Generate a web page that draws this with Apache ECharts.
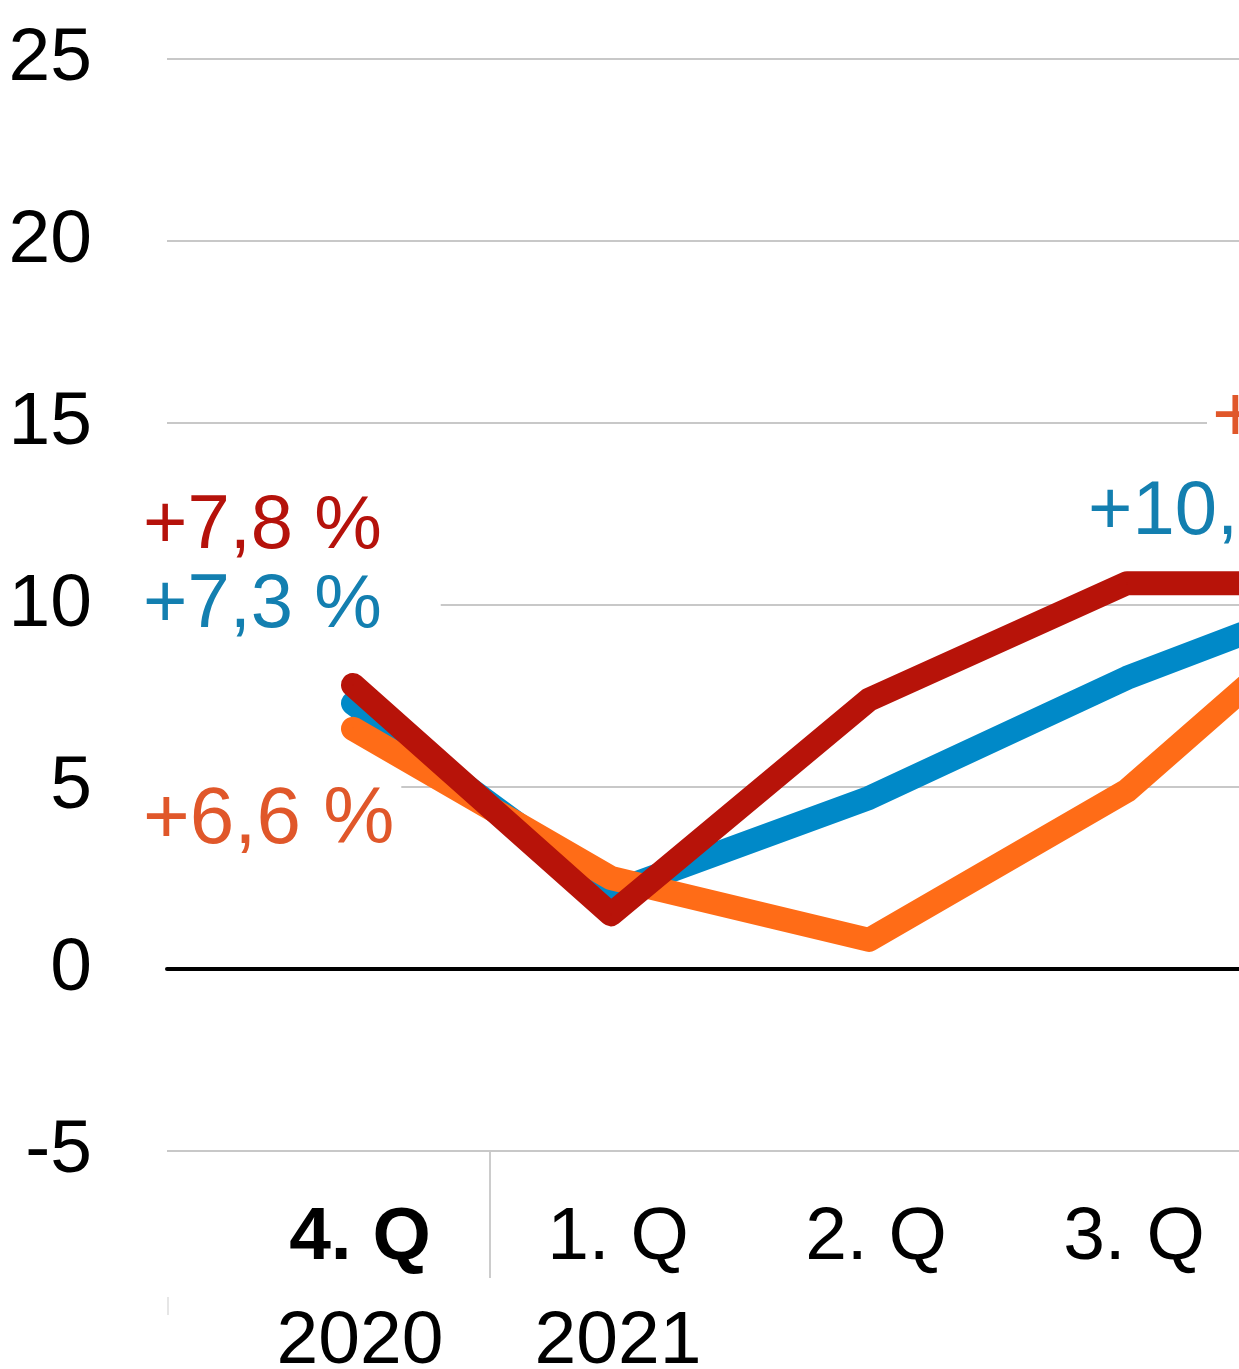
<!DOCTYPE html>
<html>
<head>
<meta charset="utf-8">
<script src="https://cdn.jsdelivr.net/npm/echarts@6/dist/echarts.min.js"></script>
<style>
  html, body { margin: 0; padding: 0; background: #fff; }
  #chart { width: 1239px; height: 1369px; }
</style>
</head>
<body>
<div id="chart"></div>
<script>
// Quartale und Jahre
var quarters = ['4. Q', '1. Q', '2. Q', '3. Q', '4. Q'];
var years = ['2020', '2021', '', '', ''];

// Veraenderung in %
var redValues = [7.8, 1.5, 7.4, 10.6, 10.6];
var blueValues = [7.3, 2.1, 4.7, 8.0, 10.7];
var orangeValues = [6.6, 2.5, 0.8, 4.9, 11.1];

// y-Achse
var yMin = -5;
var yMax = 25;
var yStep = 5;

var FONT = '"Liberation Sans", Arial, sans-serif';

function pct(v) {
	return '+' + v.toFixed(1).replace('.', ',') + ' %';
}

// label placement per series: index -> style
var labelStyle = {
	red: {
		0: { offset: [-210, -158], color: '#b5120b', fontSize: 76, padding: [0, 0, 0, 0] }
	},
	blue: {
		0: { offset: [-210, -97], color: '#137fb0', fontSize: 76, padding: [0, 59, 0, 0] },
		4: { offset: [-297, -66], color: '#137fb0', fontSize: 76, padding: [0, 0, 0, 0] }
	},
	orange: {
		0: { offset: [-210, 92], color: '#e0572a', fontSize: 80, padding: [0, 7, 0, 0] },
		4: { offset: [-173, -146], color: '#e0572a', fontSize: 80, padding: [0, 0, 0, 5] }
	}
};

function buildData(values, key) {
	return values.map(function (v, i) {
		var s = labelStyle[key][i];
		if (!s) return v;
		return {
			value: v,
			label: {
				show: true,
				position: 'inside',
				align: 'left',
				verticalAlign: 'middle',
				offset: [s.offset[0] - s.padding[3], s.offset[1]],
				formatter: pct(v),
				color: s.color,
				fontSize: s.fontSize,
				fontFamily: FONT,
				backgroundColor: '#fff',
				padding: s.padding
			}
		};
	});
}

function lineSeries(name, values, key, color) {
	return {
		name: name,
		type: 'line',
		xAxisIndex: 1,
		yAxisIndex: 1,
		data: buildData(values, key),
		symbol: 'circle',
		symbolSize: 2,
		itemStyle: { color: color },
		lineStyle: { color: color, width: 24, cap: 'round', join: 'round' },
		label: { show: false },
		emphasis: { disabled: true },
		silent: true
	};
}

var myChart = echarts.init(document.getElementById('chart'));

var option = {
	animation: false,
	backgroundColor: '#fff',
	grid: [
		{ left: 167, top: 59, width: 1400, height: 1092, outerBoundsMode: 'none', containLabel: false },
		{ left: 224, top: 59, width: 1290, height: 1092, outerBoundsMode: 'none', containLabel: false }
	],
	xAxis: [
		{
			gridIndex: 0,
			type: 'value',
			min: 0,
			max: 1,
			axisLine: { show: true, onZero: true, lineStyle: { color: '#000', width: 4 } },
			axisTick: { show: false },
			axisLabel: { show: false },
			splitLine: { show: false }
		},
		{
			gridIndex: 1,
			type: 'category',
			data: quarters,
			boundaryGap: true,
			axisLine: { show: false, onZero: false },
			axisTick: { show: false },
			axisLabel: {
				margin: 35,
				interval: 0,
				formatter: function (value, index) {
					var q = index === 0 ? '{qb|' + value + '}' : '{q|' + value + '}';
					return years[index] ? q + '\n{y|' + years[index] + '}' : q;
				},
				rich: {
					q: { fontSize: 75, lineHeight: 104, color: '#000', fontFamily: FONT, padding: [0, 0, 0, 14] },
					qb: { fontSize: 75, lineHeight: 104, color: '#000', fontWeight: 'bold', fontFamily: FONT, padding: [0, 0, 0, 14] },
					y: { fontSize: 75, lineHeight: 104, color: '#000', fontFamily: FONT, padding: [0, 0, 0, 14] }
				}
			},
			splitLine: { show: false }
		}
	],
	yAxis: [
		{
			gridIndex: 0,
			type: 'value',
			min: yMin,
			max: yMax,
			interval: yStep,
			axisLine: { show: false },
			axisTick: { show: false },
			axisLabel: {
				margin: 75,
				color: '#000',
				fontSize: 75,
				fontFamily: FONT
			},
			splitLine: { show: true, lineStyle: { color: '#c8c8c8', width: 2 } }
		},
		{
			gridIndex: 1,
			type: 'value',
			min: yMin,
			max: yMax,
			interval: yStep,
			show: false,
			splitLine: { show: false }
		}
	],
	series: [
		lineSeries('Blau', blueValues, 'blue', '#0089c8'),
		lineSeries('Orange', orangeValues, 'orange', '#ff6c17'),
		lineSeries('Rot', redValues, 'red', '#b71309')
	]
};

myChart.setOption(option);

// Jahrestrenner zwischen 2020 und 2021 (Grenze zwischen den Kategorien)
var xA = myChart.convertToPixel({ xAxisIndex: 1 }, 0);
var xB = myChart.convertToPixel({ xAxisIndex: 1 }, 1);
var yBottom = myChart.convertToPixel({ yAxisIndex: 1 }, yMin);
var yearSep = (xA + xB) / 2 + 8;

myChart.setOption({
	graphic: [
		{
			type: 'line',
			shape: { x1: yearSep, y1: yBottom + 1, x2: yearSep, y2: yBottom + 127 },
			style: { stroke: '#cccccc', lineWidth: 2 }
		},
		{
			type: 'line',
			shape: { x1: 168, y1: yBottom + 146, x2: 168, y2: yBottom + 164 },
			style: { stroke: '#e6e6e6', lineWidth: 2 }
		}
	]
});
</script>
</body>
</html>
